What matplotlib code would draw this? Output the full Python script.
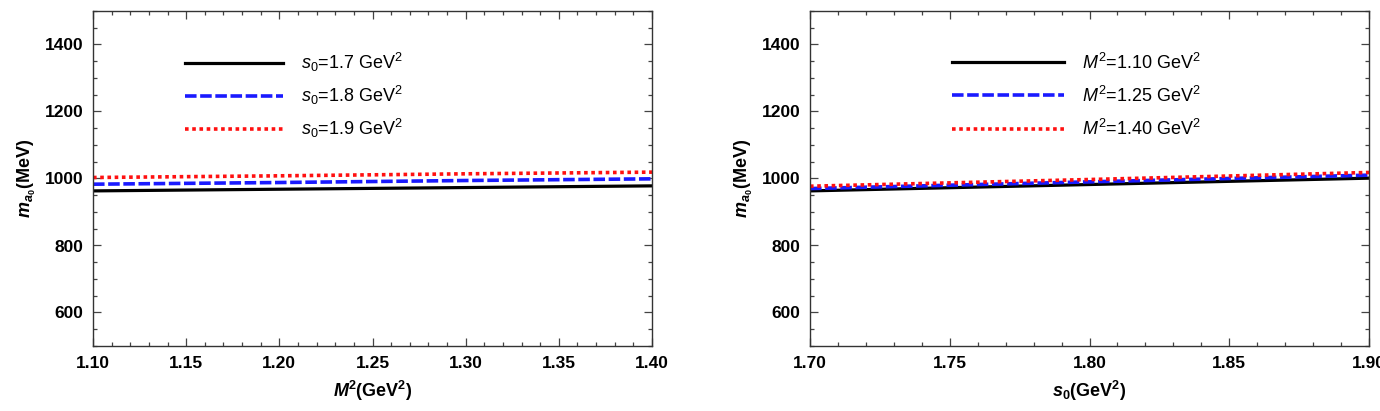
import matplotlib
matplotlib.use("Agg")
import matplotlib.pyplot as plt
from matplotlib.ticker import MultipleLocator, FormatStrFormatter

plt.rcParams['font.family'] = ['Liberation Sans', 'DejaVu Sans']
plt.rcParams['mathtext.fontset'] = 'custom'
plt.rcParams['mathtext.rm'] = 'Liberation Sans'
plt.rcParams['mathtext.it'] = 'Liberation Sans:italic'
plt.rcParams['mathtext.bf'] = 'Liberation Sans:bold'
try:
    plt.rcParams['mathtext.bfit'] = 'Liberation Sans:italic:bold'
    BFIT = r'\mathbfit'
except KeyError:
    BFIT = r'\mathbf'

# Left panel: m_a0 vs M^2 for several s0
M2 = [1.10, 1.20, 1.30, 1.40]
s0_labels = ["1.7", "1.8", "1.9"]
m_s0_17 = [963, 968, 973, 978]
m_s0_18 = [983, 988, 994, 999]
m_s0_19 = [1003, 1008, 1014, 1019]

# Right panel: m_a0 vs s0 for several M^2
s0 = [1.70, 1.80, 1.90]
M2_labels = ["1.10", "1.25", "1.40"]
m_M2_110 = [963, 982, 1001]
m_M2_125 = [970, 990, 1010]
m_M2_140 = [977, 997, 1018]

W, H = 1380, 411
fig = plt.figure(figsize=(W / 100, H / 100), dpi=100)

def ax_rect(x0, x1, y0, y1):
    return [x0 / W, 1 - y1 / H, (x1 - x0) / W, (y1 - y0) / H]

axL = fig.add_axes(ax_rect(93, 652, 11, 346))
axR = fig.add_axes(ax_rect(810, 1369, 11, 346))

styles = [dict(color='black', lw=2.3, ls='-'),
          dict(color='#1a1aff', lw=2.6, ls=(0, (3.2, 1.0))),
          dict(color='#ff1010', lw=2.6, ls=(0, (1.0, 1.0)))]

leftL = [m_s0_17, m_s0_18, m_s0_19]
for vals, lab, st in zip(leftL, s0_labels, styles):
    axL.plot(M2, vals, label=r'$s_0$=' + lab + r' GeV$^2$', **st)

rightL = [m_M2_110, m_M2_125, m_M2_140]
for vals, lab, st in zip(rightL, M2_labels, styles):
    axR.plot(s0, vals, label=r'$M^2$=' + lab + r' GeV$^2$', **st)

for ax in (axL, axR):
    ax.set_ylim(500, 1500)
    ax.yaxis.set_major_locator(MultipleLocator(200))
    ax.yaxis.set_minor_locator(MultipleLocator(50))
    ax.xaxis.set_major_locator(MultipleLocator(0.05))
    ax.xaxis.set_minor_locator(MultipleLocator(0.01))
    ax.xaxis.set_major_formatter(FormatStrFormatter('%.2f'))
    ax.tick_params(which='both', direction='in', top=True, right=True,
                   color='#444444', width=0.9)
    ax.tick_params(which='major', length=6, labelsize=12.5, pad=7)
    ax.tick_params(which='minor', length=3)
    for lbl in ax.get_xticklabels() + ax.get_yticklabels():
        lbl.set_fontweight('bold')
    for sp in ax.spines.values():
        sp.set_color('#333333')
        sp.set_linewidth(1.0)
    ax.set_ylabel(r'$' + BFIT + r'{m}_{' + BFIT + r'{a}_{\mathbf{0}}}$(MeV)',
                  fontsize=13, fontweight='bold', labelpad=5)

axL.set_xlim(1.10, 1.40)
axR.set_xlim(1.70, 1.90)
axL.set_xlabel(r'$' + BFIT + r'{M}^{\mathbf{2}}$(GeV$^{\mathbf{2}}$)',
               fontsize=13, fontweight='bold', labelpad=6)
axR.set_xlabel(r'$' + BFIT + r'{s}_{\mathbf{0}}$(GeV$^{\mathbf{2}}$)',
               fontsize=13, fontweight='bold', labelpad=6)

axL.legend(loc='upper left', bbox_to_anchor=(0.165, 0.88), frameon=False,
           fontsize=13, handlelength=5.4, handletextpad=1.0,
           labelspacing=0.55, borderpad=0, borderaxespad=0)
axR.legend(loc='upper left', bbox_to_anchor=(0.254, 0.876), frameon=False,
           fontsize=13, handlelength=6.2, handletextpad=1.0,
           labelspacing=0.72, borderpad=0, borderaxespad=0)

fig.savefig('out.png', dpi=100)
